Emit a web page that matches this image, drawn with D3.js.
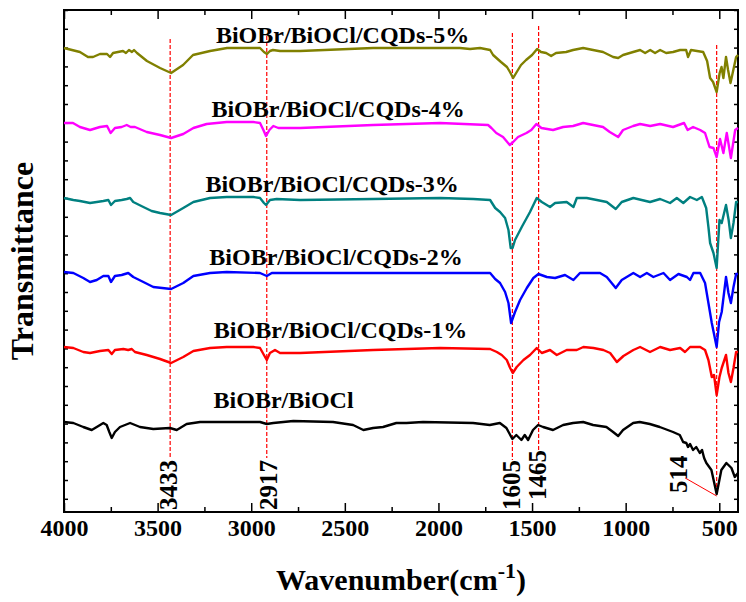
<!DOCTYPE html>
<html>
<head>
<meta charset="utf-8">
<script src="https://cdn.jsdelivr.net/npm/d3@7"></script>
<style>
  body { margin: 0; background: #fff; }
  svg { font-family: "Liberation Serif", "Times New Roman", serif; font-weight: bold; }
</style>
</head>
<body>
<svg id="chart"></svg>
<script>
// FTIR spectra, [wavenumber (cm-1), transmittance (a.u., offset)]
const bare = [[4000,9.0],[3950,8.9],[3897,8.5],[3852,8.2],[3825,8.5],[3790,8.9],[3772,8.7],[3758,8.0],[3745,7.4],[3728,8.0],[3701,8.5],[3647,8.9],[3594,8.5],[3523,8.3],[3434,8.4],[3398,8.2],[3380,8.4],[3345,8.8],[3273,9.0],[3131,9.0],[2953,9.0],[2917,8.8],[2882,8.9],[2775,9.1],[2563,9.0],[2456,8.7],[2401,8.2],[2349,8.4],[2296,8.5],[2225,8.9],[2171,8.9],[2082,9.0],[1815,8.9],[1726,8.7],[1672,8.9],[1637,8.4],[1605,7.3],[1584,7.7],[1557,7.2],[1539,7.7],[1521,7.2],[1495,8.2],[1468,8.7],[1441,8.5],[1388,8.2],[1334,8.7],[1281,8.9],[1227,9.0],[1174,8.7],[1103,8.5],[1067,8.0],[1040,7.6],[1014,8.2],[960,8.9],[925,9.0],[871,8.8],[818,8.5],[747,8.0],[711,7.7],[693,7.0],[676,6.9],[667,6.5],[656,6.8],[640,6.2],[623,6.5],[604,5.9],[592,6.2],[581,5.4],[569,4.9],[542,4.2],[514,1.8],[489,4.2],[462,4.9],[435,4.4],[417,3.5],[400,3.9]];

const cqds1 = [[4000,16.5],[3950,16.4],[3897,16.0],[3861,15.9],[3808,16.1],[3763,16.2],[3745,15.8],[3728,16.2],[3683,16.3],[3657,16.2],[3638,16.3],[3621,16.0],[3558,15.7],[3487,15.3],[3428,14.9],[3363,15.5],[3309,16.1],[3220,16.4],[3131,16.5],[2989,16.5],[2953,16.4],[2932,15.7],[2917,15.2],[2900,15.9],[2873,16.2],[2846,15.9],[2739,15.9],[2349,16.2],[1991,16.4],[1724,16.3],[1688,16.0],[1662,15.7],[1635,15.2],[1617,14.4],[1603,13.9],[1582,14.5],[1546,15.2],[1511,15.7],[1475,16.4],[1448,15.9],[1404,16.2],[1368,15.7],[1315,16.2],[1261,16.2],[1226,16.5],[1172,16.4],[1119,16.2],[1083,15.9],[1047,15.0],[1012,15.6],[959,16.2],[923,16.5],[870,16.0],[816,16.5],[763,16.2],[709,16.4],[683,16.0],[656,16.5],[602,16.5],[576,16.2],[558,15.2],[540,13.5],[528,13.7],[514,11.7],[499,13.5],[487,14.4],[464,15.7],[451,13.9],[438,13.0],[424,14.4],[410,16.0],[400,16.0]];

const cqds2 = [[4000,24.0],[3950,23.9],[3897,23.4],[3861,23.0],[3825,23.2],[3790,23.6],[3763,23.6],[3749,23.0],[3728,23.6],[3692,23.7],[3657,23.9],[3630,23.5],[3576,23.0],[3523,22.5],[3428,22.3],[3363,22.9],[3309,23.6],[3220,23.9],[3131,24.0],[2953,23.9],[2917,23.6],[2890,23.9],[2739,23.9],[2349,23.9],[1991,23.9],[1724,23.9],[1697,23.3],[1671,22.9],[1644,22.0],[1626,20.9],[1612,18.9],[1591,20.0],[1564,21.2],[1528,22.4],[1493,23.4],[1466,23.8],[1421,23.5],[1377,23.4],[1324,23.7],[1279,23.2],[1244,23.9],[1137,23.9],[1101,23.5],[1053,22.4],[1021,23.2],[959,23.9],[923,23.5],[887,23.9],[852,23.5],[798,23.9],[763,23.2],[718,23.8],[673,23.5],[656,23.2],[638,23.9],[602,23.9],[576,22.9],[558,20.9],[540,18.9],[514,16.5],[501,19.0],[487,20.0],[464,23.5],[451,21.9],[438,20.9],[424,22.5],[410,23.8],[400,23.8]];

const cqds3 = [[4000,31.4],[3950,31.2],[3915,31.1],[3861,30.9],[3825,31.0],[3790,31.1],[3763,31.2],[3749,30.7],[3728,31.1],[3692,31.2],[3665,31.3],[3647,31.4],[3630,31.0],[3576,30.5],[3532,30.1],[3487,29.9],[3428,29.7],[3363,30.4],[3309,31.0],[3220,31.4],[3131,31.5],[2989,31.5],[2953,31.4],[2932,30.9],[2921,30.7],[2900,31.2],[2864,31.3],[2739,31.2],[2349,31.3],[1991,31.4],[1814,31.3],[1724,31.2],[1697,30.4],[1671,30.0],[1644,29.4],[1626,28.2],[1614,26.4],[1604,26.4],[1591,27.2],[1555,28.5],[1511,30.0],[1475,31.4],[1448,31.0],[1404,30.5],[1377,30.9],[1315,31.0],[1279,30.5],[1261,31.4],[1208,31.4],[1154,31.2],[1101,31.0],[1053,30.3],[1021,31.0],[959,31.4],[870,31.0],[816,31.3],[763,30.9],[727,31.4],[692,30.9],[656,31.5],[620,31.2],[593,31.5],[570,30.4],[558,28.5],[549,26.9],[531,25.9],[514,24.4],[499,29.2],[487,28.9],[464,30.7],[450,29.2],[438,27.4],[424,28.9],[410,31.0],[400,31.0]];

const cqds4 = [[4000,38.9],[3952,38.9],[3915,38.5],[3861,38.2],[3808,38.5],[3770,38.6],[3751,37.9],[3728,38.4],[3692,38.5],[3665,38.7],[3644,38.5],[3621,38.5],[3558,38.0],[3487,37.7],[3428,37.4],[3363,37.8],[3309,38.4],[3238,38.8],[3131,39.0],[2989,39.0],[2953,38.9],[2935,38.2],[2921,37.6],[2903,38.2],[2882,38.6],[2855,38.4],[2739,38.4],[2349,38.7],[1991,38.9],[1735,38.7],[1717,38.4],[1691,37.9],[1655,37.5],[1619,36.7],[1601,37.0],[1575,37.5],[1530,37.9],[1504,38.2],[1477,38.8],[1450,38.4],[1388,38.2],[1334,38.5],[1281,38.6],[1227,38.9],[1174,38.7],[1121,38.5],[1085,38.0],[1040,37.5],[1014,38.2],[960,38.6],[923,38.8],[869,38.6],[816,38.8],[747,38.5],[688,38.9],[669,38.2],[640,38.5],[602,38.2],[576,37.9],[552,36.5],[531,36.4],[514,35.5],[496,37.3],[478,35.9],[460,37.9],[438,35.4],[415,38.2],[400,38.4]];

const cqds5 = [[4000,46.4],[3915,46.0],[3872,45.5],[3845,45.5],[3808,45.8],[3770,45.8],[3754,45.5],[3738,45.9],[3712,46.0],[3685,46.1],[3669,45.9],[3653,46.2],[3637,46.0],[3626,46.2],[3610,45.9],[3557,45.1],[3487,44.4],[3428,43.9],[3364,44.7],[3311,45.7],[3220,46.1],[3129,46.4],[2953,46.4],[2932,46.0],[2916,45.8],[2900,46.1],[2884,46.2],[2846,46.1],[2739,46.1],[2349,46.4],[1885,46.4],[1831,46.3],[1778,46.4],[1724,46.2],[1708,45.7],[1666,45.0],[1634,44.5],[1618,44.0],[1601,43.4],[1585,43.9],[1559,44.7],[1532,45.2],[1500,45.7],[1473,46.3],[1452,46.0],[1425,45.9],[1398,45.6],[1372,45.9],[1318,46.0],[1281,46.2],[1227,46.4],[1174,46.2],[1121,46.0],[1067,45.5],[1040,45.4],[1014,45.7],[960,46.0],[923,46.2],[896,45.9],[869,46.2],[843,45.9],[816,46.2],[784,45.9],[747,46.0],[709,46.2],[677,46.2],[667,45.5],[651,46.2],[619,46.1],[586,46.0],[565,45.1],[549,43.4],[533,43.0],[514,42.0],[498,43.9],[488,44.5],[478,43.4],[464,45.5],[453,44.2],[440,42.9],[425,44.2],[410,45.5],[400,45.7]];

const seriesData = [bare, cqds1, cqds2, cqds3, cqds4, cqds5];
const seriesNames = ['BiOBr/BiOCl', 'BiOBr/BiOCl/CQDs-1%', 'BiOBr/BiOCl/CQDs-2%',
  'BiOBr/BiOCl/CQDs-3%', 'BiOBr/BiOCl/CQDs-4%', 'BiOBr/BiOCl/CQDs-5%'];
const seriesColors = ['#000000', '#ff0000', '#0000ff', '#008080', '#ff00ff', '#808000'];
// where each name sits: [centre wavenumber, baseline value]
const nameAnchors = [[2827, 10.4], [2523, 17.4], [2547, 24.7], [2568, 32.0], [2536, 39.5], [2512, 46.9]];

// marked bands: wavenumber, top and bottom of the guide line
const peaks = [3433, 2917, 1605, 1465, 514];
const peakTop = [47.3, 47.6, 47.9, 48.6, 46.7];
const peakBottom = [5.4, 5.4, 5.2, 6.2, 1.8];
// rotated band labels: baseline wavenumber, starting value
const peakLabelAt = [[3396, 0.2], [2862, 0.2], [1564, 0.2], [1425, 1.2], [672, 1.9]];

const majorTicks = [4000, 3500, 3000, 2500, 2000, 1500, 1000, 500];
const minorTicks = [3750, 3250, 2750, 2250, 1750, 1250, 750];

const dim = { width: 746, height: 602, left: 64, right: 738, top: 10, bottom: 512 };

const svg = d3.select('#chart')
  .attr('width', dim.width)
  .attr('height', dim.height);

const x = d3.scaleLinear().domain([4000, 400]).range([dim.left, dim.right]);
const y = d3.scaleLinear().domain([0, 50.2]).range([dim.bottom, dim.top]);

// axes: ticks pointing inward on all four sides
function frameAxis(axis, values, size, pos, labels) {
  const g = svg.append('g')
    .attr('transform', pos)
    .call(axis.tickValues(values).tickSize(size).tickPadding(7)
      .tickFormat(labels ? d3.format('d') : ''));
  g.select('.domain').remove();
  g.selectAll('.tick line').attr('stroke', '#000').attr('stroke-width', 1.5);
  g.selectAll('.tick text')
    .attr('font-size', 24)
    .attr('font-family', '"Liberation Serif", serif')
    .attr('font-weight', 'bold')
    .attr('fill', '#000');
  return g;
}

frameAxis(d3.axisBottom(x), majorTicks, -9, `translate(0,${dim.bottom})`, true);
frameAxis(d3.axisBottom(x), minorTicks, -5, `translate(0,${dim.bottom})`, false);
frameAxis(d3.axisTop(x), majorTicks, -9, `translate(0,${dim.top})`, false);
frameAxis(d3.axisTop(x), minorTicks, -5, `translate(0,${dim.top})`, false);

const yTicks = d3.range(0, 27).map(k => 50.2 - 1.88 * k);
frameAxis(d3.axisLeft(y), yTicks, -4, `translate(${dim.left},0)`, false);
frameAxis(d3.axisRight(y), yTicks, -4, `translate(${dim.right},0)`, false);

svg.append('rect')
  .attr('x', dim.left)
  .attr('y', dim.top)
  .attr('width', dim.right - dim.left)
  .attr('height', dim.bottom - dim.top)
  .attr('fill', 'none')
  .attr('stroke', '#000')
  .attr('stroke-width', 2);

// guide lines for the marked bands
peaks.forEach((p, i) => {
  svg.append('line')
    .attr('x1', x(p)).attr('x2', x(p))
    .attr('y1', y(peakTop[i])).attr('y2', y(peakBottom[i]))
    .attr('stroke', '#ff0000')
    .attr('stroke-width', 1.2)
    .attr('stroke-dasharray', '4,2');
});

// spectra
const line = d3.line()
  .x(d => x(d[0]))
  .y(d => y(d[1]));

seriesData.forEach((data, i) => {
  svg.append('path')
    .datum(data)
    .attr('d', line)
    .attr('fill', 'none')
    .attr('stroke', seriesColors[i])
    .attr('stroke-width', 2.4)
    .attr('stroke-linejoin', 'round');

  svg.append('text')
    .attr('x', x(nameAnchors[i][0]))
    .attr('y', y(nameAnchors[i][1]))
    .attr('text-anchor', 'middle')
    .attr('font-size', 24)
    .attr('fill', '#000')
    .text(seriesNames[i]);
});

// band labels, rotated
peaks.forEach((p, i) => {
  const [lx, ly] = peakLabelAt[i];
  svg.append('text')
    .attr('transform', `translate(${x(lx)},${y(ly)}) rotate(-90)`)
    .attr('font-size', 25)
    .attr('fill', '#000')
    .text(p);
});

// pointer from "514" to the band minimum
svg.append('line')
  .attr('x1', x(682)).attr('y1', y(3.4))
  .attr('x2', x(514)).attr('y2', y(1.6))
  .attr('stroke', '#ff0000')
  .attr('stroke-width', 1);

// axis titles
const xTitle = svg.append('text')
  .attr('x', (dim.left + dim.right) / 2)
  .attr('y', 590)
  .attr('text-anchor', 'middle')
  .attr('font-size', 30)
  .attr('fill', '#000');
xTitle.append('tspan').text('Wavenumber(cm');
xTitle.append('tspan').attr('dy', -12).attr('font-size', 22).text('-1');
xTitle.append('tspan').attr('dy', 12).text(')');

svg.append('text')
  .attr('transform', `translate(33,${(dim.top + dim.bottom) / 2}) rotate(-90)`)
  .attr('text-anchor', 'middle')
  .attr('font-size', 32)
  .attr('fill', '#000')
  .text('Transmittance');
</script>
</body>
</html>
